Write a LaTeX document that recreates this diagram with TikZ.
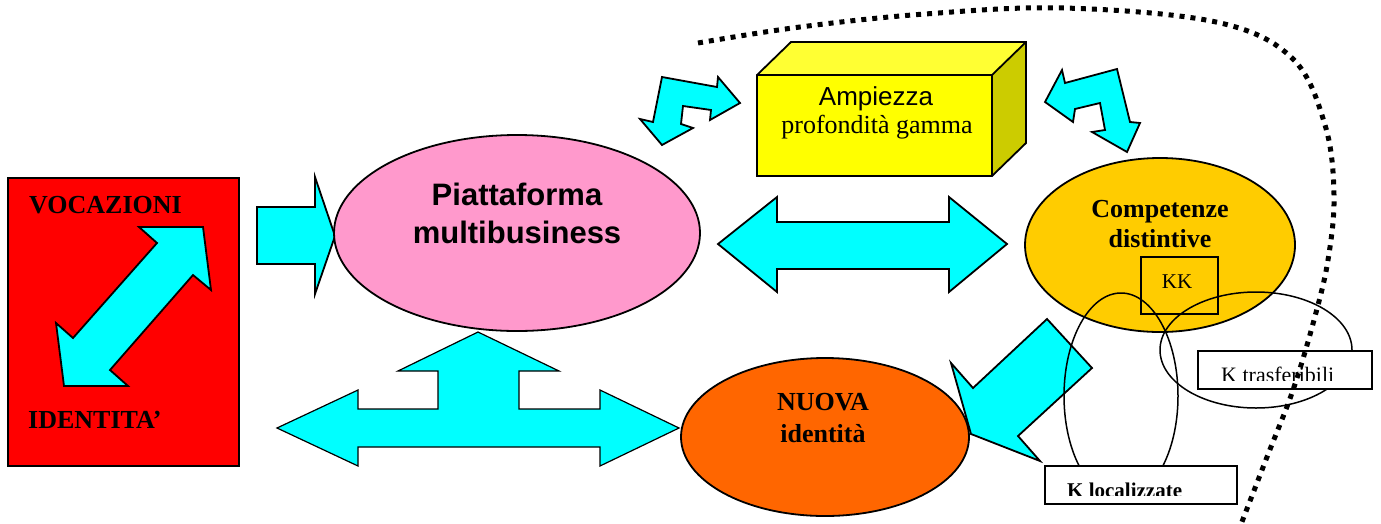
\documentclass[tikz,border=0pt]{standalone}
\usepackage{fontspec}
\setmainfont{Liberation Serif}
\newfontfamily\arialfont{Liberation Sans}
\usetikzlibrary{shapes.geometric}
\definecolor{arrowcyan}{HTML}{00FFFF}
\definecolor{boxred}{HTML}{FF0000}
\definecolor{pinkfill}{HTML}{FF99CC}
\definecolor{yfront}{HTML}{FFFF00}
\definecolor{ytop}{HTML}{FFFF33}
\definecolor{yside}{HTML}{CCCC00}
\definecolor{goldfill}{HTML}{FFCC00}
\definecolor{orangefill}{HTML}{FF6600}
\begin{document}
\begin{tikzpicture}[x=1pt,y=-1pt,
  blockarrow/.style={fill=arrowcyan,draw=black,line width=1.8pt,line join=miter},
  oval/.style={ellipse,draw=black,line width=1.8pt,inner sep=0pt},
  thinoval/.style={ellipse,draw=black,line width=1.5pt,inner sep=0pt},
  boxface/.style={draw=black,line width=1.8pt,line join=miter},
  serifbold/.style={font=\fontsize{26}{28}\selectfont\bfseries,inner sep=0pt},
  labelbox/.style={rectangle,draw=black,fill=white,line width=1.8pt,inner sep=0pt},
  boundary/.style={line width=5pt,dash pattern=on 5pt off 6pt}
]
\useasboundingbox (0,0) rectangle (1381,523);

% left panel
\node[rectangle,draw=black,fill=boxred,line width=1.8pt,minimum width=231pt,minimum height=288pt,inner sep=0pt] (panel) at (123.5,322) {};
\node[serifbold,anchor=base west] (voc) at (29,213) {VOCAZIONI};
\node[serifbold,anchor=base west] (ident) at (28,428) {IDENTITA’};
\draw[blockarrow] (139,227) -- (203,227) -- (211,290) -- (193,275) -- (110,370) -- (128,386)
  -- (64,386) -- (56,323) -- (73,338) -- (157,243) -- cycle;

% arrow into the platform
\draw[blockarrow] (257,207) -- (315,207) -- (315,177) -- (335,236) -- (315,294) -- (315,264) -- (257,264) -- cycle;

% platform
\node[oval,fill=pinkfill,minimum width=366pt,minimum height=196pt] (piatt) at (517,233) {};
\node[font=\arialfont\fontsize{31}{33}\selectfont\bfseries,anchor=base,inner sep=0pt] (piattA) at (517,205) {Piattaforma};
\node[font=\arialfont\fontsize{31}{33}\selectfont\bfseries,anchor=base,inner sep=0pt] (piattB) at (517,243) {multibusiness};

% range box
\fill[ytop] (757,75) -- (791,42) -- (1026,42) -- (992,75) -- cycle;
\fill[yside] (992,75) -- (1026,42) -- (1026,143) -- (992,176) -- cycle;
\fill[yfront] (757,75) rectangle (992,176);
\draw[boxface] (757,75) -- (791,42) -- (1026,42) -- (1026,143) -- (992,176) -- (757,176) -- cycle;
\draw[boxface] (757,75) -- (992,75) -- (1026,42);
\draw[boxface] (992,75) -- (992,176);
\node[font=\arialfont\fontsize{26}{28}\selectfont,anchor=base,inner sep=0pt] (amp) at (876,105) {Ampiezza};
\node[font=\fontsize{26}{28}\selectfont,anchor=base,inner sep=0pt] (prof) at (877,133) {profondità gamma};

% bent arrows beside the box
\draw[blockarrow] (662,77) -- (717,87) -- (718,77) -- (740,103) -- (710,120) -- (711,110) -- (683,106)
  -- (681,124) -- (693,128) -- (662,145) -- (640,119) -- (653,122) -- cycle;
\draw[blockarrow] (1062,70) -- (1045,102) -- (1073,122) -- (1075,109) -- (1100,103) -- (1105,130)
  -- (1092,132) -- (1127,152) -- (1140,123) -- (1130,122) -- (1117,69) -- (1065,83) -- cycle;

% horizontal double arrow
\draw[blockarrow] (718,244) -- (777,197) -- (777,222) -- (949,222) -- (949,197) -- (1007,244)
  -- (949,292) -- (949,269) -- (777,269) -- (777,292) -- cycle;

% distinctive competences
\node[oval,fill=goldfill,minimum width=270pt,minimum height=174pt] (comp) at (1160,245) {};
\node[serifbold,anchor=base] (compA) at (1160,217) {Competenze};
\node[serifbold,anchor=base] (compB) at (1160,247) {distintive};
\node[rectangle,draw=black,line width=1.6pt,minimum width=77pt,minimum height=57pt,inner sep=0pt] (kk) at (1179.5,285.5) {};
\node[font=\fontsize{21}{23}\selectfont,anchor=base,inner sep=0pt] (kkt) at (1177,288) {KK};

% new identity
\node[oval,fill=orangefill,minimum width=288pt,minimum height=158pt] (nuova) at (825,437) {};
\node[serifbold,anchor=base] (nuovaA) at (823,410) {NUOVA};
\node[serifbold,anchor=base] (nuovaB) at (823,442) {identità};

% arrow from competences to new identity
\draw[blockarrow] (1047,319) -- (1092,368) -- (1018,436) -- (1040,461) -- (971,434) -- (951,363) -- (973,388) -- cycle;

% T-shaped arrow
\draw[blockarrow,line width=1.2pt] (277,428) -- (358,390) -- (358,409) -- (438,409) -- (438,371) -- (398,371)
  -- (478,332) -- (559,371) -- (519,371) -- (519,409) -- (600,409) -- (600,390) -- (679,428)
  -- (600,466) -- (600,447) -- (358,447) -- (358,466) -- cycle;

% overlapping knowledge sets
\node[thinoval,minimum width=114pt,minimum height=206pt] (locov) at (1121,396) {};
\node[thinoval,minimum width=192pt,minimum height=116pt] (trov) at (1256,350) {};

\node[labelbox,minimum width=174pt,minimum height=38pt] (trbox) at (1285,370) {};
\begin{scope}
  \clip (1199,352) rectangle (1371,380);
  \node[font=\fontsize{22}{24}\selectfont,anchor=base west,inner sep=0pt] (trt) at (1221,382) {K trasferibili};
\end{scope}
\node[labelbox,minimum width=192pt,minimum height=38pt] (locbox) at (1141,485) {};
\begin{scope}
  \clip (1046,467) rectangle (1236,495);
  \node[font=\fontsize{21}{23}\selectfont\bfseries,anchor=base west,inner sep=0pt] (loct) at (1067,497) {K localizzate};
\end{scope}

% dotted boundary
\coordinate (bstart) at (698,43);
\coordinate (bend) at (1238,532);
\draw[boundary] plot[smooth,tension=0.6] coordinates {(bstart) (800,27) (925,14) (1064,8) (1216,22) (1292,58) (1325,125) (1334,195) (1328,260) (1314,320) (1293,390) (1267,457) (bend)};
\end{tikzpicture}
\end{document}
